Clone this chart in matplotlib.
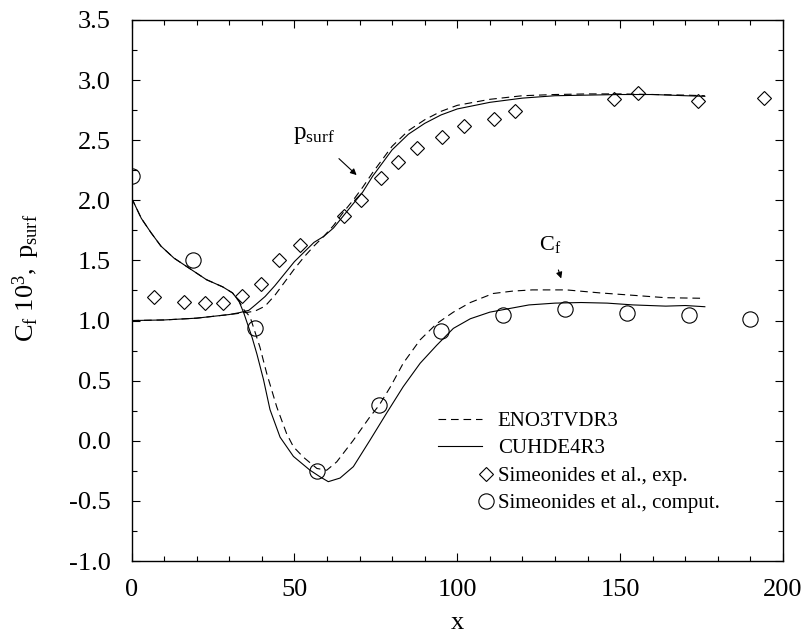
import numpy as np
import matplotlib
matplotlib.use("Agg")
import matplotlib.pyplot as plt
from matplotlib.ticker import MultipleLocator, FormatStrFormatter
from matplotlib.legend_handler import HandlerLine2D

plt.rcParams['font.family'] = ['Liberation Serif', 'DejaVu Serif']
plt.rcParams['mathtext.fontset'] = 'custom'
plt.rcParams['mathtext.rm'] = 'Liberation Serif'
plt.rcParams['mathtext.it'] = 'Liberation Serif:italic'
plt.rcParams['axes.unicode_minus'] = False
plt.rcParams['lines.scale_dashes'] = False

# experimental p_surf (diamonds)
exp_x = [7.0, 16.2, 22.4, 28.0, 34.0, 39.8, 45.2, 51.7, 65.3, 70.5, 76.6, 81.7,
         87.6, 95.2, 102.2, 111.3, 117.8, 148.1, 155.6, 173.8, 194.3]
exp_y = [1.20, 1.157, 1.143, 1.143, 1.207, 1.30, 1.50, 1.628, 1.87, 2.0, 2.183,
         2.316, 2.435, 2.53, 2.618, 2.674, 2.743, 2.843, 2.895, 2.829, 2.849]

# computed Cf (circles)
comp_x = [0, 19, 38, 57, 76, 95, 114, 133, 152, 171, 190]
comp_y = [2.20, 1.50, 0.935, -0.25, 0.295, 0.915, 1.045, 1.095, 1.065, 1.048, 1.013]

# CUHDE4R3 p_surf (solid)
cu_p_x = [0, 10, 20, 30, 33, 36, 38, 41, 44, 47, 50, 53, 56, 59, 62, 65, 68, 71,
          74, 77, 80, 85, 90, 95, 100, 110, 120, 130, 140, 150, 160, 170, 176]
cu_p_y = [1.00, 1.005, 1.02, 1.05, 1.065, 1.085, 1.13, 1.20, 1.29, 1.39, 1.49,
          1.57, 1.65, 1.70, 1.77, 1.87, 1.97, 2.07, 2.20, 2.31, 2.42, 2.55, 2.64,
          2.71, 2.76, 2.815, 2.85, 2.87, 2.875, 2.88, 2.88, 2.87, 2.865]

# ENO3TVDR3 p_surf (dashed)
eno_p_x = cu_p_x
eno_p_y = [1.00, 1.005, 1.02, 1.05, 1.06, 1.07, 1.08, 1.12, 1.21, 1.32, 1.43,
           1.53, 1.62, 1.70, 1.79, 1.90, 2.00, 2.11, 2.23, 2.34, 2.45, 2.58, 2.67,
           2.74, 2.79, 2.84, 2.87, 2.88, 2.885, 2.885, 2.88, 2.875, 2.87]

# CUHDE4R3 Cf (solid)
cu_cf_x = [0, 3, 6, 9, 13, 18, 23, 28, 31, 33, 34.5, 36, 37, 38.5, 40.5, 42.5,
           45.6, 49.7, 54.8, 57.9, 60.4, 64.0, 68.1, 73.2, 78.3, 83.4, 88.6, 93.7,
           98.8, 104, 110, 116, 122, 130, 138, 146, 154, 164, 170, 176]
cu_cf_y = [2.02, 1.85, 1.73, 1.62, 1.52, 1.43, 1.34, 1.28, 1.23, 1.16, 1.06, 0.94,
           0.86, 0.72, 0.51, 0.26, 0.03, -0.13, -0.245, -0.30, -0.34, -0.31,
           -0.215, 0.005, 0.23, 0.45, 0.645, 0.795, 0.935, 1.015, 1.07, 1.10,
           1.13, 1.145, 1.15, 1.145, 1.13, 1.12, 1.125, 1.115]

# ENO3TVDR3 Cf (dashed)
eno_cf_x = [0, 3, 6, 9, 13, 18, 23, 28, 31, 33, 34.5, 36.4, 39.4, 41.5, 44.6,
            47.6, 49.7, 52.7, 56.9, 59.9, 63.0, 68.1, 73.2, 76.0, 79.5, 83.4, 88.6,
            93.7, 98.8, 104, 111, 117, 123, 133.5, 143.8, 154, 164, 176]
eno_cf_y = [2.02, 1.85, 1.73, 1.62, 1.52, 1.43, 1.34, 1.28, 1.23, 1.16, 1.09, 1.03,
            0.78, 0.56, 0.28, 0.06, -0.05, -0.135, -0.23, -0.245, -0.175, 0.005,
            0.20, 0.295, 0.45, 0.645, 0.84, 0.975, 1.07, 1.15, 1.225, 1.245, 1.255,
            1.255, 1.23, 1.21, 1.19, 1.185]


class HandlerRightMarker(HandlerLine2D):
    # legend marker sits at the right end of the handle instead of the middle
    def get_xdata(self, legend, xdescent, ydescent, width, height, fontsize):
        m = -xdescent + width + 0.2 * fontsize
        return [m, m], [m]


fig = plt.figure(figsize=(8.06, 6.34), dpi=100)
ax = fig.add_axes([0.1632, 0.1151, 0.8083, 0.8534])

dash = (0, (5.5, 3.5))
ax.plot(eno_p_x, eno_p_y, color='k', lw=0.8, linestyle=dash, label='ENO3TVDR3')
ax.plot(eno_cf_x, eno_cf_y, color='k', lw=0.8, linestyle=dash)
ax.plot(cu_p_x, cu_p_y, color='k', lw=0.8, label='CUHDE4R3')
ax.plot(cu_cf_x, cu_cf_y, color='k', lw=0.8)
h_exp, = ax.plot(exp_x, exp_y, linestyle='none', marker='D', ms=7.6, mfc='none',
                 mec='k', mew=0.8, label='Simeonides et al., exp.')
h_comp, = ax.plot(comp_x, comp_y, linestyle='none', marker='o', ms=11,
                  mfc='none', mec='k', mew=0.8, label='Simeonides et al., comput.')

ax.annotate(r'$\mathrm{p_{surf}}$', xy=(69.1, 2.21), xytext=(56, 2.54),
            fontsize=18, ha='center', va='center',
            arrowprops=dict(arrowstyle='-|>', color='k', lw=0.8,
                            mutation_scale=9, shrinkA=10, shrinkB=0))
ax.annotate(r'$\mathrm{C_{f}}$', xy=(131.9, 1.35), xytext=(128.5, 1.63),
            fontsize=16, ha='center', va='center',
            arrowprops=dict(arrowstyle='-|>', color='k', lw=0.8,
                            mutation_scale=9, shrinkA=9, shrinkB=0))

ax.set_xlim(0, 200)
ax.set_ylim(-1.0, 3.5)
ax.xaxis.set_major_locator(MultipleLocator(50))
ax.xaxis.set_minor_locator(MultipleLocator(10))
ax.yaxis.set_major_locator(MultipleLocator(0.5))
ax.yaxis.set_minor_locator(MultipleLocator(0.25))
ax.yaxis.set_major_formatter(FormatStrFormatter('%.1f'))
ax.tick_params(which='both', direction='in', top=True, right=True, width=0.8)
ax.tick_params(which='major', length=6)
ax.tick_params(which='minor', length=3.5)
ax.tick_params(axis='x', labelsize=19, pad=13)
ax.tick_params(axis='y', labelsize=19, pad=15)
for s in ax.spines.values():
    s.set_linewidth(1.0)

ax.set_xlabel('x', fontsize=19, labelpad=8)
ax.set_ylabel(r'$\mathrm{C_f\ 10^3,\ p_{surf}}$', fontsize=19)
ax.yaxis.set_label_coords(-0.137, 0.523)

ax.legend(loc='lower left', bbox_to_anchor=(0.471, 0.088), frameon=False,
          fontsize=15, handlelength=2.1, handletextpad=0.75, labelspacing=0.38,
          borderpad=0, borderaxespad=0,
          handler_map={h_exp: HandlerRightMarker(numpoints=1),
                       h_comp: HandlerRightMarker(numpoints=1)})

fig.savefig('out.png', dpi=100)
